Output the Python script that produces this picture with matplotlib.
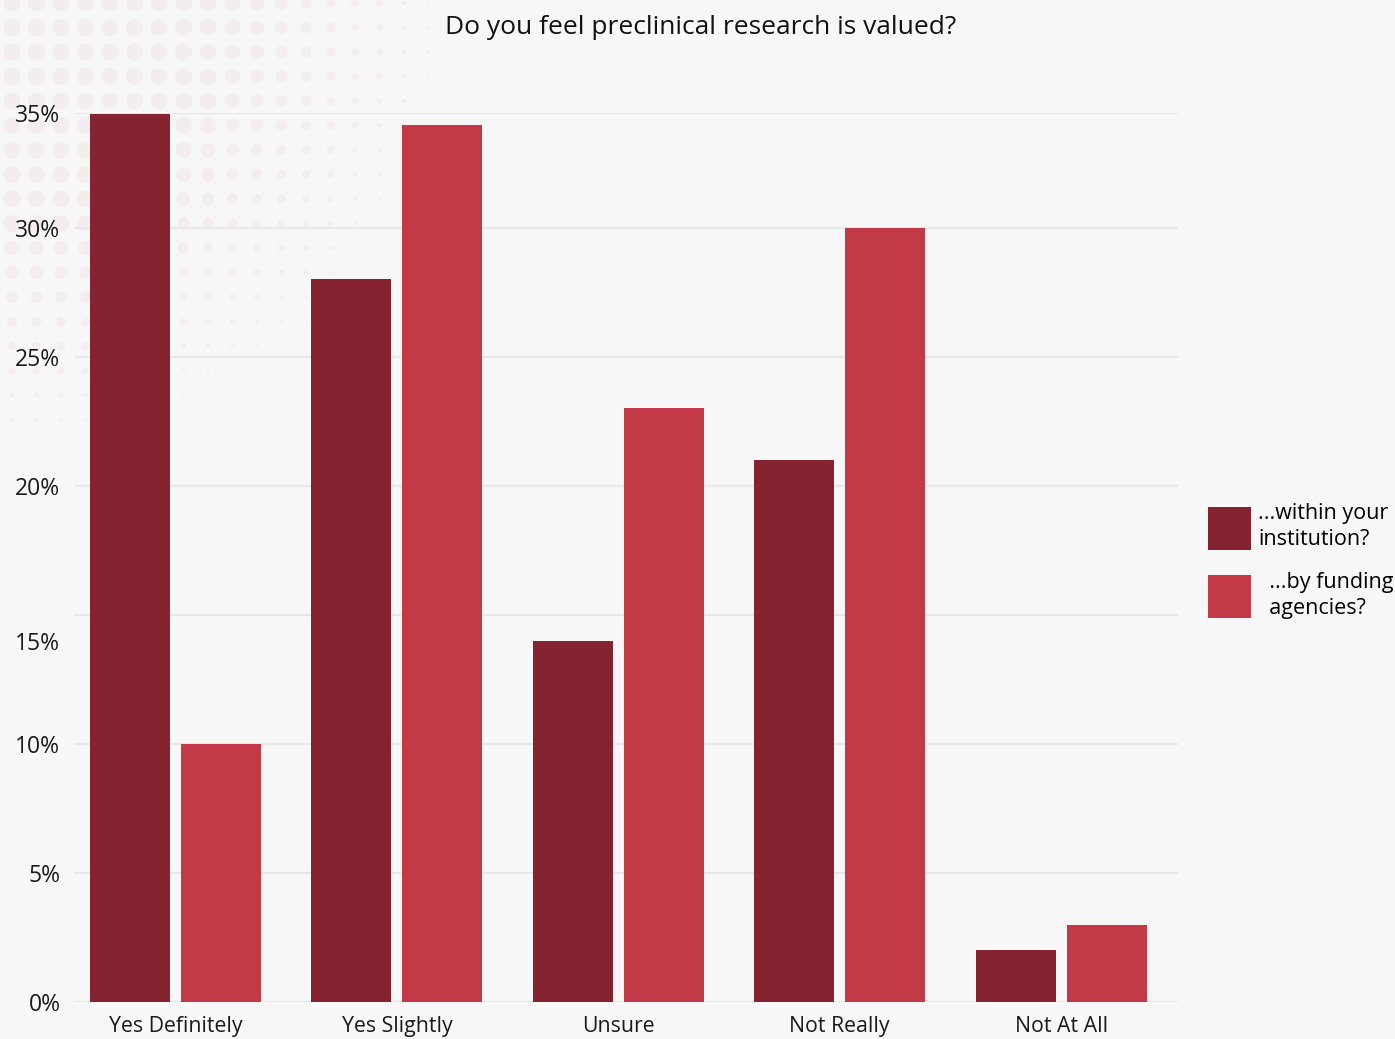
import numpy as np
import matplotlib
matplotlib.use("Agg")
import matplotlib.pyplot as plt
import matplotlib.transforms as mtransforms

plt.rcParams['font.family'] = ['Open Sans', 'DejaVu Sans']

categories = ['Yes Definitely', 'Yes Slightly', 'Unsure', 'Not Really', 'Not At All']
institution = [34.4, 28.0, 14.0, 21.0, 2.0]
funding = [10.0, 34.0, 23.0, 30.0, 3.0]
series_labels = ['...within your\ninstitution?', '  ...by funding\n  agencies?']
ytick_vals = [0, 5, 10, 15, 20, 25, 30, 34.45]
ytick_labels = ['0%', '5%', '10%', '15%', '20%', '25%', '30%', '35%']

col_inst = '#862331'
col_fund = '#c23a47'
bg = '#f7f7f7'

W, H = 1395, 1039
fig = plt.figure(figsize=(W / 100, H / 100), dpi=100, facecolor=bg)

# faint dotted decoration in the top-left corner, fading out radially
deco = fig.add_axes([0, 0, 1, 1], zorder=0)
deco.set_xlim(0, W)
deco.set_ylim(H, 0)
deco.axis('off')
gx, gy = np.meshgrid(np.arange(12, 480, 24.5), np.arange(3, 430, 24.5))
dist = np.hypot(gx, gy)
diam = np.clip(17 * (470 - dist) / 250, 0, 17)
keep = diam > 1.5
deco.scatter(gx[keep], gy[keep], s=(diam[keep] * 0.72) ** 2, color='#f4eded',
             linewidths=0)

ax = fig.add_axes([75 / W, 37 / H, (1178 - 75) / W, (1002 - 113) / H], zorder=1)
ax.set_facecolor('none')

x = np.arange(len(categories))
bw = 0.361
off = 0.2055
ax.bar(x - off, institution, bw, color=col_inst, label=series_labels[0], zorder=3)
ax.bar(x + off, funding, bw, color=col_fund, label=series_labels[1], zorder=3)

ax.set_xlim(-0.454, len(categories) - 1 + 0.528)
ax.set_ylim(0, 34.45)
ax.set_yticks(ytick_vals)
ax.set_yticklabels(ytick_labels)
ax.set_xticks(x)
ax.set_xticklabels(categories)
ax.tick_params(axis='both', length=0, colors='#1a1a1a')
ax.tick_params(axis='y', pad=10.5, labelsize=16.5)
ax.tick_params(axis='x', pad=10, labelsize=15.3)
ax.grid(axis='y', color='#e8e8e8', linewidth=1.6, zorder=0)
for s in ax.spines.values():
    s.set_visible(False)

# the 15% label sits a bit below its gridline in the original
lab15 = ax.get_yticklabels()[3]
lab15.set_transform(lab15.get_transform() + mtransforms.ScaledTranslation(0, -0.26, fig.dpi_scale_trans))

fig.text(701 / W, 1 - 28 / H, 'Do you feel preclinical research is valued?', ha='center', va='center',
         fontsize=19, color='#111111')

leg = fig.legend(loc='center left', bbox_to_anchor=(1199 / W, 1 - 561 / H), frameon=False,
                 fontsize=15.5, handlelength=2.0, handleheight=2.68, handletextpad=0.34,
                 labelspacing=1.0, borderaxespad=0)
for t in leg.get_texts():
    t.set_linespacing(1.3)

fig.savefig('out.png', dpi=100, facecolor=bg)
